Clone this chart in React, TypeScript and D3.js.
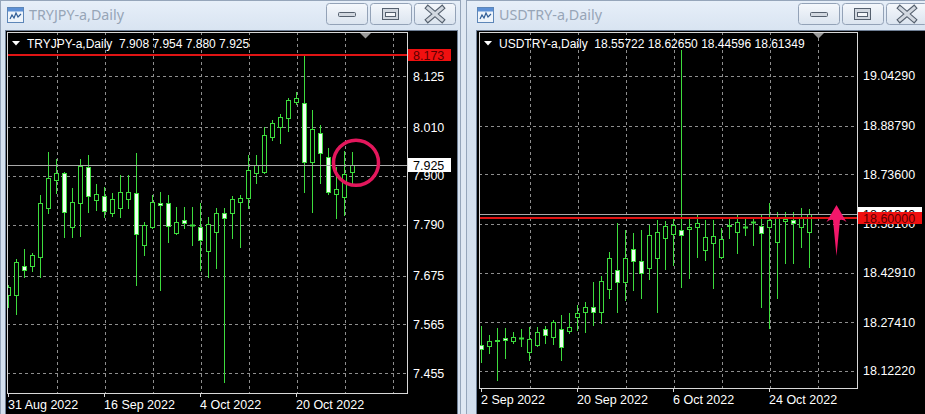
import React from "react";
import * as d3 from "d3";

// TRYJPY-a, Daily bars from 31 Aug 2022 to 31 Oct 2022
const tryjpyOpen = [7.631, 7.631, 7.696, 7.696, 7.717, 7.827, 7.890, 7.906, 7.784, 7.839, 7.920, 7.845, 7.854, 7.816, 7.827, 7.848, 7.861, 7.744, 7.784, 7.839, 7.839, 7.771, 7.800, 7.789, 7.784, 7.730, 7.773, 7.816, 7.816, 7.841, 7.850, 7.906, 7.909, 7.987, 8.010, 8.030, 8.066, 8.064, 7.931, 7.996, 7.942, 7.859, 7.852, 7.908];
const tryjpyHigh = [7.654, 7.712, 7.735, 7.726, 7.857, 7.954, 7.938, 7.909, 7.872, 7.938, 7.947, 7.881, 7.875, 7.861, 7.902, 7.902, 7.951, 7.796, 7.857, 7.863, 7.857, 7.830, 7.830, 7.830, 7.839, 7.807, 7.827, 7.827, 7.854, 7.857, 7.947, 7.947, 8.010, 8.026, 8.039, 8.075, 8.089, 8.172, 8.048, 8.014, 7.963, 7.920, 7.956, 7.954];
const tryjpyLow = [7.604, 7.588, 7.672, 7.685, 7.672, 7.816, 7.861, 7.762, 7.762, 7.764, 7.818, 7.823, 7.807, 7.809, 7.807, 7.827, 7.654, 7.721, 7.782, 7.642, 7.751, 7.769, 7.782, 7.744, 7.687, 7.672, 7.692, 7.435, 7.760, 7.739, 7.827, 7.884, 7.906, 7.981, 7.974, 8.001, 8.062, 7.863, 7.818, 7.884, 7.859, 7.805, 7.811, 7.880];
const tryjpyClose = [7.649, 7.705, 7.687, 7.721, 7.839, 7.895, 7.906, 7.818, 7.841, 7.922, 7.854, 7.859, 7.821, 7.848, 7.863, 7.863, 7.769, 7.789, 7.841, 7.834, 7.787, 7.796, 7.793, 7.788, 7.755, 7.791, 7.816, 7.805, 7.848, 7.850, 7.913, 7.924, 7.992, 8.019, 8.033, 8.071, 8.075, 7.931, 8.005, 7.951, 7.863, 7.870, 7.904, 7.925];
const tryjpyPriceTicks = [8.125, 8.01, 7.9, 7.79, 7.675, 7.565, 7.455];
const tryjpyDateLabels = ["31 Aug 2022", "16 Sep 2022", "4 Oct 2022", "20 Oct 2022"];
const tryjpyLevel = 8.173;

// USDTRY-a, Daily bars from 2 Sep 2022 to 31 Oct 2022
const usdtryOpen = [18.2033, 18.2002, 18.2143, 18.2252, 18.2158, 18.2252, 18.1815, 18.2033, 18.2533, 18.2283, 18.2533, 18.2470, 18.2907, 18.3063, 18.3219, 18.3063, 18.3781, 18.4374, 18.4000, 18.5030, 18.4655, 18.4437, 18.4749, 18.5373, 18.5498, 18.5623, 18.5654, 18.5716, 18.4998, 18.5217, 18.4780, 18.5747, 18.5560, 18.5701, 18.5857, 18.5747, 18.5716, 18.5248, 18.5904, 18.5935, 18.5716, 18.55722];
const usdtryHigh = [18.2626, 18.2346, 18.2564, 18.2564, 18.2439, 18.2533, 18.2595, 18.2595, 18.2626, 18.2814, 18.2970, 18.3032, 18.3282, 18.3375, 18.4000, 18.4187, 18.4936, 18.5841, 18.5623, 18.5529, 18.5623, 18.5779, 18.5935, 18.5904, 18.5997, 19.1240, 18.5997, 18.6091, 18.5935, 18.5935, 18.5685, 18.5997, 18.6091, 18.5966, 18.5997, 18.6122, 18.6465, 18.6184, 18.6184, 18.6184, 18.6309, 18.62650];
const usdtryLow = [18.1503, 18.1784, 18.0941, 18.1628, 18.2096, 18.2002, 18.1565, 18.2002, 18.2096, 18.2065, 18.1565, 18.2408, 18.2502, 18.2439, 18.2658, 18.2720, 18.3500, 18.3063, 18.3438, 18.3750, 18.3500, 18.4093, 18.3063, 18.4405, 18.4530, 18.3844, 18.4125, 18.4780, 18.4686, 18.3812, 18.4749, 18.5373, 18.4905, 18.5467, 18.5154, 18.3219, 18.2564, 18.3500, 18.4593, 18.4593, 18.5092, 18.44596];
const usdtryClose = [18.1909, 18.2158, 18.2174, 18.2190, 18.2283, 18.2243, 18.2221, 18.2439, 18.2346, 18.2751, 18.1971, 18.2595, 18.3032, 18.3219, 18.3063, 18.4031, 18.4749, 18.4000, 18.4749, 18.4655, 18.4281, 18.5467, 18.5560, 18.5747, 18.5779, 18.5467, 18.5716, 18.5841, 18.5404, 18.5435, 18.5342, 18.5779, 18.5872, 18.5716, 18.5872, 18.5529, 18.5935, 18.5997, 18.5966, 18.5841, 18.6028, 18.61349];
const usdtryPriceTicks = [19.0429, 18.8879, 18.736, 18.581, 18.4291, 18.2741, 18.1222];
const usdtryDateLabels = ["2 Sep 2022", "20 Sep 2022", "6 Oct 2022", "24 Oct 2022"];
const usdtryLevel = 18.6;

const FONT = "'Liberation Sans', Arial, sans-serif";
const UI_FONT = "'Noto Sans', 'Open Sans', sans-serif";
const GREEN = "#3ddc3d";
const BEAR_FILL = "#eefff0";
const GRID = "#8e8e8e";
const MARK = "#e3175c";

type PanelCfg = {
  id: string;
  symbol: string;
  plot: { left: number; right: number; top: number; bottom: number };
  priceDomain: [number, number];
  firstBar: number;
  barStep: number;
  open: number[];
  high: number[];
  low: number[];
  close: number[];
  digits: number;
  priceTicks: number[];
  dateLabels: string[];
  level: number;
  shiftX: number;
};

function CandlePanel({ cfg }: { cfg: PanelCfg }) {
  const { plot } = cfg;
  const y = d3.scaleLinear().domain(cfg.priceDomain).range([plot.bottom, plot.top]);
  const x = d3.scaleLinear().domain([0, 1]).range([cfg.firstBar, cfg.firstBar + cfg.barStep]);
  const n = cfg.close.length;
  const last = n - 1;
  const px = (v: number) => Math.round(v) + 0.5;
  const fmt = (v: number) => v.toFixed(cfg.digits);
  const clipId = `clip-${cfg.id}`;
  const labelX = plot.right + 6;
  const gridIdx = d3.range(6, 60, 6).filter((i) => x(i) < plot.right - 2);
  const lastClose = cfg.close[last];
  const header = `${cfg.symbol},Daily  ${fmt(cfg.open[last])} ${fmt(cfg.high[last])} ${fmt(cfg.low[last])} ${fmt(lastClose)}`;
  const boxW = cfg.digits > 3 ? 64 : 43;
  const levelY = Math.round(y(cfg.level));
  const closeY = Math.round(y(lastClose));
  // scale labels sitting under the level tag only show their uncovered part
  const freeTicks = cfg.priceTicks.filter((t) => Math.abs(y(t) - levelY) > 10 && Math.abs(y(t) - closeY) > 10);
  const coveredTicks = cfg.priceTicks.filter((t) => !freeTicks.includes(t));

  return (
    <g>
      <defs>
        <clipPath id={clipId}>
          <rect x={plot.left} y={plot.top} width={plot.right - plot.left} height={plot.bottom - plot.top} />
        </clipPath>
        <clipPath id={`${clipId}-tag`}>
          <rect x={plot.right + 1} y={levelY + 6} width={80} height={20} />
        </clipPath>
        <clipPath id={`${clipId}-close`}>
          <rect x={plot.right + 1} y={closeY - 12} width={80} height={Math.max(0, levelY - 6 - (closeY - 12))} />
        </clipPath>
      </defs>
      <g clipPath={`url(#${clipId})`}>
        {cfg.priceTicks.map((t) => (
          <line key={`h${t}`} x1={plot.left} x2={plot.right} y1={px(y(t))} y2={px(y(t))}
            stroke={GRID} strokeDasharray="3 3" />
        ))}
        {gridIdx.map((i) => (
          <line key={`v${i}`} x1={px(x(i)) + 1} x2={px(x(i)) + 1} y1={plot.top} y2={plot.bottom}
            stroke={GRID} strokeDasharray="3 3" />
        ))}
        {d3.range(n).map((i) => {
          const cx = Math.round(x(i));
          const o = cfg.open[i];
          const c = cfg.close[i];
          const top = Math.round(y(Math.max(o, c))) + 0.5;
          const bot = Math.round(y(Math.min(o, c))) + 0.5;
          const bear = c < o;
          return (
            <g key={`c${i}`}>
              <rect x={cx} y={Math.round(y(cfg.high[i]))} width={1}
                height={Math.round(y(cfg.low[i])) + 1 - Math.round(y(cfg.high[i]))} fill={GREEN} />
              {bot - top >= 1 ? (
                <rect x={cx - 1.5} y={top} width={4} height={bot - top}
                  fill={bear ? BEAR_FILL : "#000"} stroke={GREEN} strokeWidth={1} />
              ) : (
                <rect x={cx - 2} y={top - 1} width={5} height={2} fill={GREEN} />
              )}
            </g>
          );
        })}
        <line x1={plot.left} x2={plot.right} y1={closeY + 0.5} y2={closeY + 0.5} stroke="#a9a9a9" />
        <line x1={plot.left} x2={plot.right} y1={levelY} y2={levelY} stroke="#e01414" strokeWidth={2} />
      </g>
      <rect x={plot.left + 0.5} y={plot.top + 0.5} width={plot.right - plot.left} height={plot.bottom - plot.top}
        fill="none" stroke="#d8d8d8" />

      {/* header line */}
      <polygon points={`${plot.left + 5},41 ${plot.left + 13},41 ${plot.left + 9},45.5`} fill="#fff" />
      <text x={plot.left + 20} y={47.5} fill="#fff" fontFamily={FONT} fontSize={12}
        style={{ whiteSpace: "pre" }}>{header}</text>
      <polygon points={`${cfg.shiftX - 5.5},33 ${cfg.shiftX + 5.5},33 ${cfg.shiftX},38.5`} fill="#9a9a9a" />

      {/* price scale */}
      {freeTicks.map((t) => (
        <text key={`l${t}`} x={labelX} y={y(t) + 4.5} fill="#fff" fontFamily={FONT} fontSize={12.5}>
          {fmt(t)}
        </text>
      ))}
      {coveredTicks.map((t) => (
        <text key={`lc${t}`} x={labelX} y={y(t) + 4.5} fill="#fff" fontFamily={FONT} fontSize={12.5}
          clipPath={`url(#${clipId}-tag)`}>
          {fmt(t)}
        </text>
      ))}
      <g clipPath={Math.abs(closeY - levelY) < 12 ? `url(#${clipId}-close)` : undefined}>
        <rect x={plot.right + 1} y={closeY - 7} width={boxW} height={14} fill="#fff" />
        <text x={labelX} y={closeY + 4.5} fill="#000" fontFamily={FONT} fontSize={12.5}>
          {fmt(lastClose)}
        </text>
      </g>
      <rect x={plot.right + 1} y={levelY - 6} width={boxW} height={12} fill="#f01010" />
      <text x={labelX} y={levelY + 4.5} fill="#5a0000" fontFamily={FONT} fontSize={12.5}>
        {fmt(cfg.level)}
      </text>

      {/* time scale */}
      {cfg.dateLabels.map((d, k) => {
        const tx = px(x(k * 12));
        return (
          <g key={d}>
            <line x1={tx} x2={tx} y1={plot.bottom} y2={plot.bottom + 4} stroke="#d8d8d8" />
            <text x={tx - 0.5} y={plot.bottom + 16} fill="#fff" fontFamily={FONT} fontSize={12.5}>{d}</text>
          </g>
        );
      })}
    </g>
  );
}

type ChromeCfg = {
  x0: number;
  x1: number;
  clientX0: number;
  clientX1: number;
  title: string;
  titleWidth: number;
  iconX: number;
  btnX: number[];
};

function CaptionButtons({ xs }: { xs: number[] }) {
  const w = 41;
  return (
    <g>
      {xs.map((bx, k) => (
        <g key={k}>
          <rect x={bx + 0.5} y={3.5} width={w} height={21} rx={3} fill="url(#btnGrad)" stroke="#93a2b7" />
          {k === 0 && (
            <rect x={bx + 12.5} y={12.5} width={17} height={4} rx={1} fill="#d2d8e0" stroke="#55606e" />
          )}
          {k === 1 && (
            <g>
              <rect x={bx + 12.5} y={8.5} width={16} height={11} fill="#d2d8e0" stroke="#55606e" />
              <rect x={bx + 15.5} y={12.5} width={10} height={4} fill="#f4f6f9" stroke="#55606e" />
            </g>
          )}
          {k === 2 && (
            <g>
              <path d={`M${bx + 14},8 L${bx + 28},20 M${bx + 28},8 L${bx + 14},20`} stroke="#55606e"
                strokeWidth={5.2} strokeLinecap="square" />
              <path d={`M${bx + 14},8 L${bx + 28},20 M${bx + 28},8 L${bx + 14},20`} stroke="#d2d8e0"
                strokeWidth={3} strokeLinecap="square" />
            </g>
          )}
        </g>
      ))}
    </g>
  );
}

function WindowChrome({ c }: { c: ChromeCfg }) {
  return (
    <g>
      <rect x={c.x0 + 0.5} y={0.5} width={c.x1 - c.x0 - 1} height={430} fill="url(#frameGrad)" stroke="#95a5ba" />
      <rect x={c.clientX0 - 0.5} y={30.5} width={c.clientX1 - c.clientX0 + 1} height={400} fill="#000" stroke="#6f7f95" />
      {/* window icon */}
      <rect x={c.iconX + 0.5} y={7.5} width={16} height={15} fill="#eef4fb" stroke="#5d86b8" />
      <rect x={c.iconX + 1} y={8} width={15} height={3.5} fill="#5c90d6" />
      <path d={`M${c.iconX + 3},19 l2,-4 l2,3 l2,-5 l2,4 l3,-3`} fill="none" stroke="#2f5d96" strokeWidth={1.2} />
      <text x={c.iconX + 22} y={19.5} fill="#97a5b7" fontFamily={UI_FONT} fontSize={14.5}
        textLength={c.titleWidth} lengthAdjust="spacingAndGlyphs">{c.title}</text>
      <CaptionButtons xs={c.btnX} />
    </g>
  );
}

const tryjpyPanel: PanelCfg = {
  id: "tryjpy",
  symbol: "TRYJPY-a",
  plot: { left: 7, right: 407, top: 32, bottom: 393 },
  priceDomain: [7.41, 8.2245],
  firstBar: 8,
  barStep: 8,
  open: tryjpyOpen,
  high: tryjpyHigh,
  low: tryjpyLow,
  close: tryjpyClose,
  digits: 3,
  priceTicks: tryjpyPriceTicks,
  dateLabels: tryjpyDateLabels,
  level: tryjpyLevel,
  shiftX: 365.5,
};

const usdtryPanel: PanelCfg = {
  id: "usdtry",
  symbol: "USDTRY-a",
  plot: { left: 479, right: 857, top: 32, bottom: 388 },
  priceDomain: [18.069, 19.1802],
  firstBar: 481,
  barStep: 8,
  open: usdtryOpen,
  high: usdtryHigh,
  low: usdtryLow,
  close: usdtryClose,
  digits: 5,
  priceTicks: usdtryPriceTicks,
  dateLabels: usdtryDateLabels,
  level: usdtryLevel,
  shiftX: 818.5,
};

export default function App() {
  // annotation anchors, taken from the same scales the panels use
  const yL = d3.scaleLinear().domain(tryjpyPanel.priceDomain).range([tryjpyPanel.plot.bottom, tryjpyPanel.plot.top]);
  const xL = d3.scaleLinear().domain([0, 1]).range([tryjpyPanel.firstBar, tryjpyPanel.firstBar + tryjpyPanel.barStep]);
  const yR = d3.scaleLinear().domain(usdtryPanel.priceDomain).range([usdtryPanel.plot.bottom, usdtryPanel.plot.top]);
  const lastL = tryjpyClose.length - 1;
  const circleX = xL(lastL) + 4;
  const circleY = yL(tryjpyClose[lastL]) - 2;
  const arrowX = usdtryPanel.plot.right - 20.5;
  const arrowTip = yR(usdtryLevel) - 13;

  return (
    <svg width={925} height={414} style={{ position: "absolute", left: 0, top: 0, display: "block" }}>
      <defs>
        <linearGradient id="frameGrad" x1="0" y1="0" x2="0" y2="1">
          <stop offset="0" stopColor="#e7eff9" />
          <stop offset="0.08" stopColor="#d6e2f0" />
          <stop offset="1" stopColor="#d3dfee" />
        </linearGradient>
        <linearGradient id="btnGrad" x1="0" y1="0" x2="0" y2="1">
          <stop offset="0" stopColor="#f5f8fc" />
          <stop offset="1" stopColor="#dbe4ef" />
        </linearGradient>
      </defs>
      <rect x={0} y={0} width={925} height={414} fill="#dfe8f3" />

      <WindowChrome c={{ x0: 0, x1: 461, clientX0: 6, clientX1: 457, title: "TRYJPY-a,Daily", titleWidth: 95, iconX: 7, btnX: [326, 370, 414] }} />
      <WindowChrome c={{ x0: 466, x1: 940, clientX0: 477, clientX1: 930, title: "USDTRY-a,Daily", titleWidth: 103, iconX: 477, btnX: [798, 842, 886] }} />

      <CandlePanel cfg={tryjpyPanel} />
      <CandlePanel cfg={usdtryPanel} />

      {/* highlight around the latest TRYJPY bar */}
      <circle cx={circleX} cy={circleY} r={22.5} fill="none" stroke={MARK} strokeWidth={3.5} />

      {/* upward arrow at the USDTRY 18.60000 level */}
      <path
        d={`M${arrowX},${arrowTip} L${arrowX + 10},${arrowTip + 17} Q${arrowX + 6},${arrowTip + 14} ${arrowX + 3.5},${arrowTip + 15}
            L${arrowX},${arrowTip + 51} L${arrowX - 3.5},${arrowTip + 15} Q${arrowX - 6},${arrowTip + 14} ${arrowX - 10},${arrowTip + 17} Z`}
        fill="#f2176a"
      />
    </svg>
  );
}
